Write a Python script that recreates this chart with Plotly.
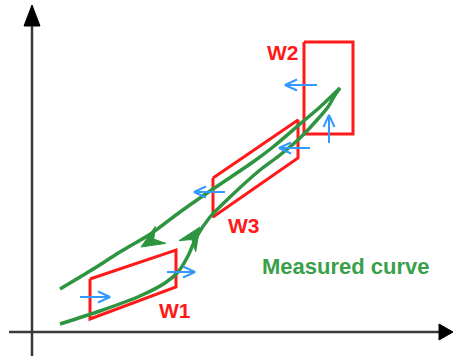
import math
import plotly.graph_objects as go

# ---- data (schematic coordinates, y grows downward) ----
upper_x = [60, 90, 120, 152, 180, 213, 253, 273, 300, 320, 340]
upper_y = [289, 271, 252, 233, 212, 189, 162, 147, 124, 107, 88]
lower_x = [60, 100, 140, 165, 178, 188, 196, 210, 230, 260, 280, 300, 317, 328, 335, 340]
lower_y = [324, 311, 296, 283, 272, 256, 238, 217, 197, 170, 155, 138, 120, 107, 95, 88]

w1_x = [90, 176, 176, 90, 90]
w1_y = [279, 250, 287, 319, 279]
w2_x = [304, 353, 353, 304, 304]
w2_y = [42, 42, 134, 134, 42]
w3_x = [213, 298, 298, 213, 213]
w3_y = [178, 120, 158, 217, 178]

# blue arrows: start -> tip
blue_start_x = [317, 329, 310, 225, 80, 167]
blue_start_y = [85, 143, 148, 192, 297, 272]
blue_tip_x = [285, 329, 279, 194, 110, 195]
blue_tip_y = [85, 115, 148, 192, 297, 272]

# green flow arrowheads: tip and direction
green_tip_x = [141, 200]
green_tip_y = [247, 227]
green_dir_x = [-1.0, 0.55]
green_dir_y = [0.62, -0.83]

labels = ["W1", "W2", "W3"]
label_x = [175, 283, 244]
label_y = [310, 52, 225]

GREEN = "#2e9440"
RED = "#ff1a1a"
BLUE = "#3399ff"

fig = go.Figure()

# axes
fig.add_trace(go.Scatter(x=[32, 32], y=[356, 22], mode="lines",
                         line=dict(color="#3a3a3a", width=2.5)))
fig.add_trace(go.Scatter(x=[9, 442], y=[332, 332], mode="lines",
                         line=dict(color="#3a3a3a", width=2.5)))
fig.add_trace(go.Scatter(x=[32, 24, 40, 32], y=[5, 26, 26, 5], mode="lines",
                         fill="toself", fillcolor="black", line=dict(color="black", width=1)))
fig.add_trace(go.Scatter(x=[453, 439, 439, 453], y=[332, 324, 340, 332], mode="lines",
                         fill="toself", fillcolor="black", line=dict(color="black", width=1)))

# windows
for xs, ys in [(w1_x, w1_y), (w2_x, w2_y), (w3_x, w3_y)]:
    fig.add_trace(go.Scatter(x=xs, y=ys, mode="lines",
                             line=dict(color=RED, width=3)))

# measured curve
fig.add_trace(go.Scatter(x=upper_x, y=upper_y, mode="lines",
                         line=dict(color=GREEN, width=3.5, shape="spline", smoothing=0.8)))
fig.add_trace(go.Scatter(x=lower_x, y=lower_y, mode="lines",
                         line=dict(color=GREEN, width=3.5, shape="spline", smoothing=0.8)))

# green arrowheads
for tx, ty, dx, dy in zip(green_tip_x, green_tip_y, green_dir_x, green_dir_y):
    n = math.hypot(dx, dy)
    dx, dy = dx / n, dy / n
    px, py = -dy, dx
    L, W, N = 23, 10, 8
    xs = [tx, tx - L * dx + W * px, tx - (L - N) * dx, tx - L * dx - W * px, tx]
    ys = [ty, ty - L * dy + W * py, ty - (L - N) * dy, ty - L * dy - W * py, ty]
    fig.add_trace(go.Scatter(x=xs, y=ys, mode="lines", fill="toself",
                             fillcolor=GREEN, line=dict(color=GREEN, width=1)))

# blue arrows
for sx, sy, tx, ty in zip(blue_start_x, blue_start_y, blue_tip_x, blue_tip_y):
    dx, dy = tx - sx, ty - sy
    n = math.hypot(dx, dy)
    dx, dy = dx / n, dy / n
    px, py = -dy, dx
    h, w = 12, 5.5
    xs = [sx, tx, None, tx - h * dx + w * px, tx, tx - h * dx - w * px]
    ys = [sy, ty, None, ty - h * dy + w * py, ty, ty - h * dy - w * py]
    fig.add_trace(go.Scatter(x=xs, y=ys, mode="lines",
                             line=dict(color=BLUE, width=2)))

for t, x, y in zip(labels, label_x, label_y):
    fig.add_annotation(x=x, y=y, text="<b>%s</b>" % t, showarrow=False,
                       font=dict(family="Liberation Sans, Arial", size=21, color=RED),
                       xanchor="center", yanchor="middle")

fig.add_annotation(x=346, y=266, text="<b>Measured curve</b>", showarrow=False,
                   font=dict(family="Liberation Sans, Arial", size=22, color="#3a9f4a"),
                   xanchor="center", yanchor="middle")

fig.update_layout(
    width=454, height=358,
    margin=dict(l=0, r=0, t=0, b=0),
    paper_bgcolor="white", plot_bgcolor="white",
    showlegend=False,
    xaxis=dict(range=[0, 454], visible=False, fixedrange=True),
    yaxis=dict(range=[358, 0], visible=False, fixedrange=True),
)

fig.write_html(
    "out.html",
    config={"displayModeBar": False},
    post_script="document.body.style.margin='0';document.body.style.overflow='hidden';",
)
